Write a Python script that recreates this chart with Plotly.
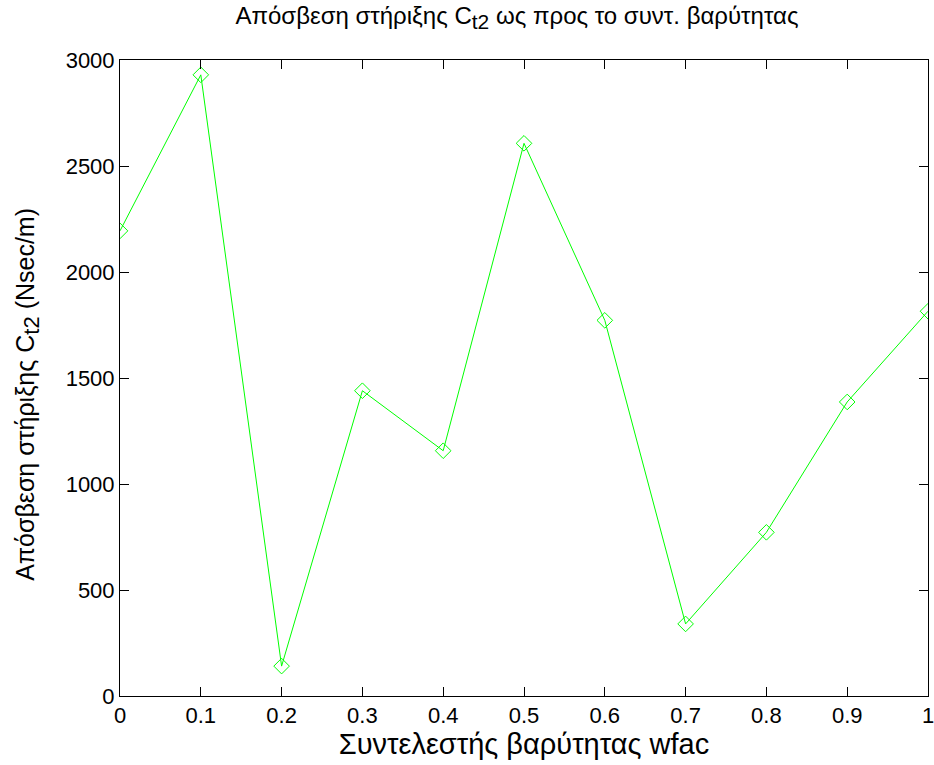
import plotly.graph_objects as go

wfac = [0, 0.1, 0.2, 0.3, 0.4, 0.5, 0.6, 0.7, 0.8, 0.9, 1.0]
ct2 = [2194, 2930, 141, 1440, 1157, 2607, 1772, 340, 772, 1387, 1815]

x_ticks = [0, 0.1, 0.2, 0.3, 0.4, 0.5, 0.6, 0.7, 0.8, 0.9, 1.0]
x_tick_text = ["0", "0.1", "0.2", "0.3", "0.4", "0.5", "0.6", "0.7", "0.8", "0.9", "1"]
y_ticks = [0, 500, 1000, 1500, 2000, 2500, 3000]
y_tick_text = ["0", "500", "1000", "1500", "2000", "2500", "3000"]

title_text = "Απόσβεση στήριξης C<sub><span style='font-size:21px'>t2</span></sub> ως προς το συντ. βαρύτητας"
x_label = "Συντελεστής βαρύτητας wfac"
y_label = "Απόσβεση στήριξης C<sub><span style='font-size:22px'>t2</span></sub> (Nsec/m)"

font = "Liberation Sans, Arial, sans-serif"

fig = go.Figure()
fig.add_trace(go.Scatter(
    x=wfac, y=ct2, mode="lines+markers",
    line=dict(color="#00ff00", width=1),
    marker=dict(symbol="diamond-open", size=12, color="#00ff00", line=dict(width=1, color="#00ff00")),
    showlegend=False,
))

axis_common = dict(
    showgrid=False, zeroline=False, showline=True, linecolor="black", linewidth=1,
    mirror="allticks", ticks="inside", ticklen=9, tickcolor="black", tickwidth=1,
    tickfont=dict(family=font, size=22, color="black"), automargin=False,
    ticklabeloverflow="allow",
)

fig.update_layout(
    width=934, height=765,
    margin=dict(l=120, r=6, t=60, b=69),
    paper_bgcolor="white", plot_bgcolor="white",
    font=dict(family=font, color="black"),
    title=dict(text=title_text, x=0.5535, xanchor="center", y=0.99, yanchor="top",
               font=dict(family=font, size=24, color="black")),
    xaxis=dict(range=[0, 1], tickvals=x_ticks, ticktext=x_tick_text,
               title=dict(text=x_label, font=dict(family=font, size=29), standoff=5),
               **axis_common),
    yaxis=dict(range=[0, 3000], tickvals=y_ticks, ticktext=y_tick_text, **axis_common),
    annotations=[dict(text=y_label, textangle=-90, xref="paper", yref="paper",
                      x=-0.1139, y=0.475, xanchor="center", yanchor="middle", showarrow=False,
                      font=dict(family=font, size=25, color="black"))],
)

fig.write_html("out.html")
